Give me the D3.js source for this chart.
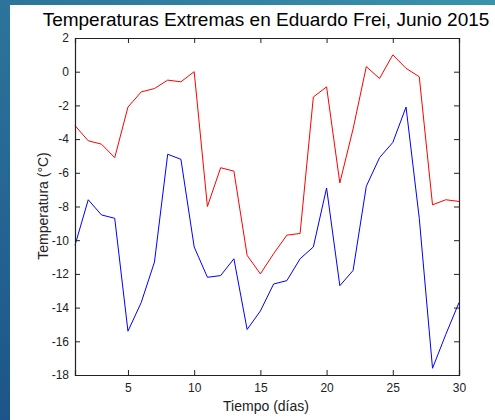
<!DOCTYPE html>
<html>
<head>
<meta charset="utf-8">
<script src="https://cdn.jsdelivr.net/npm/d3@7"></script>
<style>
  body { margin: 0; padding: 0; overflow: hidden; }
  svg { display: block; }
  text { font-family: "Liberation Sans", Arial, sans-serif; }
</style>
</head>
<body>
<div id="chart"></div>
<script>
var width = 495
var height = 420

// dias del mes
var dias = d3.range(1, 31)
// temperatura maxima (rojo)
var tMax = [-3.2, -4.1, -4.3, -5.1, -2.1, -1.2, -1.0, -0.5, -0.6, 0.0,
            -8.0, -5.7, -5.9, -10.9, -12.0, -10.8, -9.7, -9.6, -1.5, -0.9,
            -6.6, -3.4, 0.3, -0.4, 1.0, 0.2, -0.3, -7.9, -7.6, -7.7]
// temperatura minima (azul)
var tMin = [-10.3, -7.6, -8.5, -8.7, -15.4, -13.7, -11.3, -4.9, -5.2, -10.4,
            -12.2, -12.1, -11.1, -15.3, -14.2, -12.6, -12.4, -11.1, -10.4, -6.9,
            -12.7, -11.8, -6.8, -5.1, -4.2, -2.1, -8.7, -17.6, -15.6, -13.7]
var xTicks = [5, 10, 15, 20, 25, 30]
var yTicks = [2, 0, -2, -4, -6, -8, -10, -12, -14, -16, -18]

var svg = d3.select('#chart').append('svg')
    .attr('width', width)
    .attr('height', height)

// fondo tipo diapositiva
var defs = svg.append('defs')
var grad = defs.append('linearGradient')
    .attr('id', 'fondo')
    .attr('x1', '0').attr('y1', '1').attr('x2', '1').attr('y2', '0')
grad.append('stop').attr('offset', '0%').attr('stop-color', '#1c5589')
grad.append('stop').attr('offset', '40%').attr('stop-color', '#2a6e98')
grad.append('stop').attr('offset', '100%').attr('stop-color', '#3a93aa')

svg.append('rect').attr('width', width).attr('height', height).attr('fill', 'url(#fondo)')
svg.append('rect').attr('x', 10).attr('y', 5).attr('width', width - 10).attr('height', height - 5).attr('fill', '#fff')

var margin = { left: 75, top: 38, right: 459, bottom: 375 }

var x = d3.scaleLinear().domain([1, 30]).range([margin.left, margin.right])
var y = d3.scaleLinear().domain([-18, 2]).range([margin.bottom, margin.top])

var g = svg.append('g')

var line = d3.line()
    .x(function (d, i) { return x(dias[i]) })
    .y(function (d) { return y(d) })

g.append('path').datum(tMax)
    .attr('fill', 'none').attr('stroke', '#ff0000').attr('stroke-width', 1)
    .attr('d', line)
g.append('path').datum(tMin)
    .attr('fill', 'none').attr('stroke', '#0000ff').attr('stroke-width', 1)
    .attr('d', line)

// ejes (ticks hacia adentro, caja completa)
var fmt = function (d) { return String(d) }
var axB = g.append('g').attr('transform', 'translate(0,' + margin.bottom + ')')
    .call(d3.axisBottom(x).tickValues(xTicks).tickSize(-5).tickPadding(8).tickFormat(fmt))
var axT = g.append('g').attr('transform', 'translate(0,' + margin.top + ')')
    .call(d3.axisTop(x).tickValues(xTicks).tickSize(-5).tickFormat(''))
var axL = g.append('g').attr('transform', 'translate(' + margin.left + ',0)')
    .call(d3.axisLeft(y).tickValues(yTicks).tickSize(-5).tickPadding(6).tickFormat(fmt))
var axR = g.append('g').attr('transform', 'translate(' + margin.right + ',0)')
    .call(d3.axisRight(y).tickValues(yTicks).tickSize(-5).tickFormat(''))

;[axB, axT, axL, axR].forEach(function (a) {
    a.selectAll('path').attr('stroke', '#222').attr('stroke-width', 1.2)
    a.selectAll('line').attr('stroke', '#222')
    a.selectAll('text').attr('fill', '#222').style('font-size', '12px')
        .style('font-family', '"Liberation Sans", Arial, sans-serif')
})

// titulo y etiquetas
svg.append('text')
    .attr('x', 266).attr('y', 26)
    .attr('text-anchor', 'middle')
    .style('font-size', '19px')
    .attr('fill', '#000')
    .text('Temperaturas Extremas en Eduardo Frei, Junio 2015')

svg.append('text')
    .attr('x', 266).attr('y', 411)
    .attr('text-anchor', 'middle')
    .style('font-size', '14px')
    .attr('fill', '#222')
    .text('Tiempo (días)')

svg.append('text')
    .attr('transform', 'translate(48,206) rotate(-90)')
    .attr('text-anchor', 'middle')
    .style('font-size', '14px')
    .attr('fill', '#222')
    .text('Temperatura (°C)')
</script>
</body>
</html>
